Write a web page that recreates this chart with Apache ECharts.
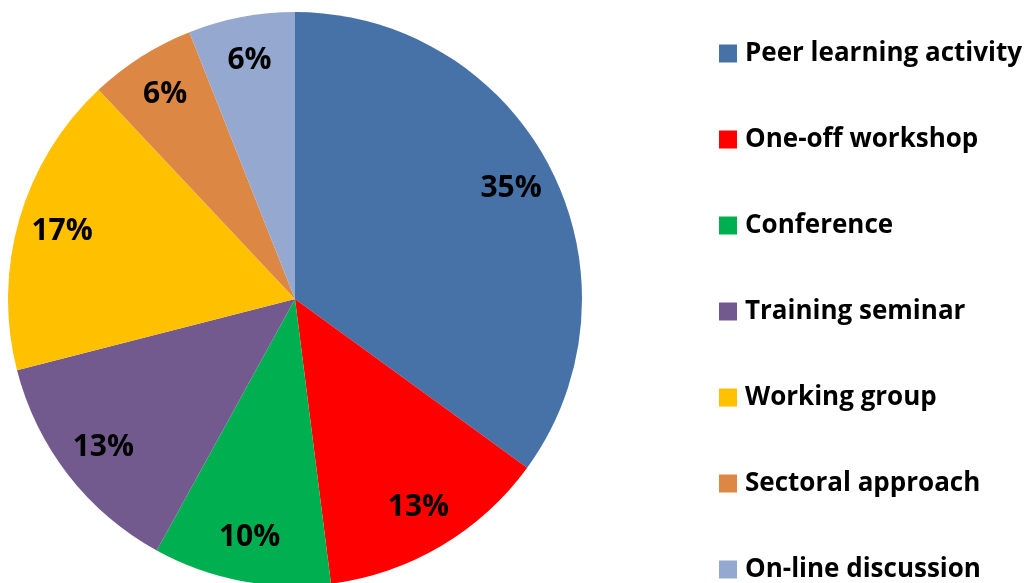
<!DOCTYPE html>
<html lang="en">
<head>
    <title>Activity types</title>
    <meta charset="UTF-8">
    <style type="text/css">
        html, body { margin: 0px; width: 100%; height: 100%; background: #fff; }
        #chart { width: 1030px; height: 583px; }
    </style>
    <script type="text/javascript" src="https://cdn.jsdelivr.net/npm/echarts@6/dist/echarts.min.js"></script>
</head>
<body>
<div id="chart"></div>
<script type="text/javascript">
    var categories = ['Peer learning activity', 'One-off workshop', 'Conference', 'Training seminar',
        'Working group', 'Sectoral approach', 'On-line discussion'];
    var shares = [35, 13, 10, 13, 17, 6, 6];
    var colors = ['#4672A8', '#FF0000', '#00B050', '#72598E', '#FFC000', '#DD8744', '#95A9D0'];

    var pieData = categories.map(function (c, i) {
        return { name: c, value: shares[i] };
    });

    var chart = echarts.init(document.getElementById('chart'));
    chart.setOption({
        animation: false,
        color: colors,
        legend: {
            orient: 'vertical',
            left: 719,
            top: 40,
            padding: 0,
            icon: 'rect',
            itemWidth: 18,
            itemHeight: 18,
            itemGap: 59,
            selectedMode: false,
            data: categories,
            textStyle: {
                fontFamily: 'Open Sans',
                fontWeight: 'bold',
                fontSize: 26,
                lineHeight: 27,
                padding: [0, 0, 0, 3],
                color: '#000'
            }
        },
        series: [
            {
                type: 'pie',
                center: [295, 299],
                radius: 287,
                startAngle: 90,
                silent: true,
                label: { show: false },
                labelLine: { show: false },
                data: pieData
            },
            {
                // transparent ring used only to place the labels near the rim
                type: 'pie',
                center: [295, 299],
                radius: [192, 287],
                startAngle: 90,
                silent: true,
                itemStyle: { color: 'transparent' },
                label: {
                    show: true,
                    position: 'inside',
                    formatter: '{d}%',
                    fontFamily: 'Open Sans',
                    fontWeight: 'bold',
                    fontSize: 30,
                    color: '#000'
                },
                labelLine: { show: false },
                data: pieData
            }
        ]
    });
</script>
</body>
</html>
